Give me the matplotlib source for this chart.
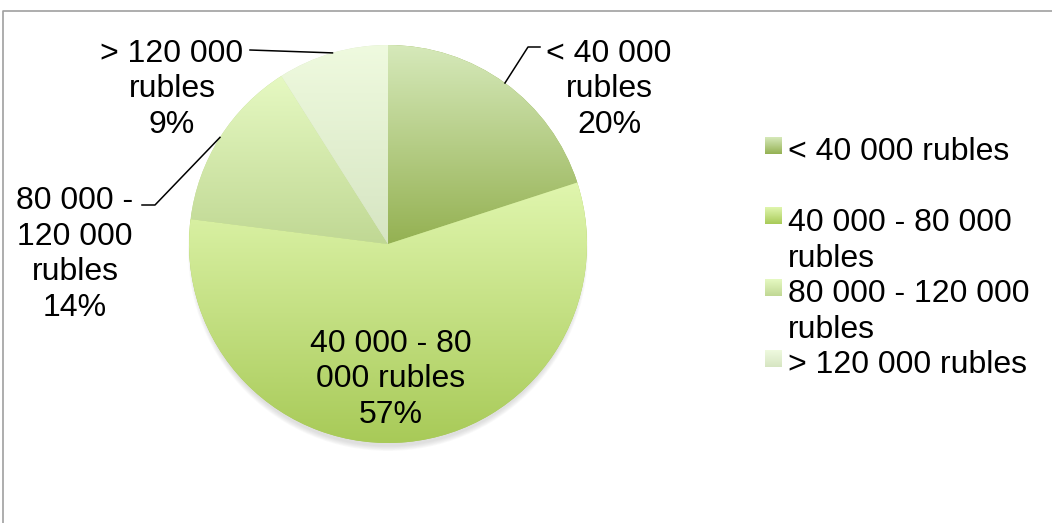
import matplotlib.pyplot as plt
import numpy as np
from matplotlib.colors import LinearSegmentedColormap
from matplotlib.patches import Circle, Rectangle
from matplotlib.lines import Line2D

plt.rcParams['font.family'] = ['Liberation Sans', 'DejaVu Sans']

categories = ['< 40 000 rubles', '40 000 - 80 000 rubles',
              '80 000 - 120 000 rubles', '> 120 000 rubles']
shares = [20, 57, 14, 9]
slice_labels = ['< 40 000\nrubles', '40 000 - 80\n000 rubles',
                '80 000 -\n120 000\nrubles', '> 120 000\nrubles']
legend_labels = ['< 40 000 rubles', '40 000 - 80 000\nrubles',
                 '80 000 - 120 000\nrubles', '> 120 000 rubles']

# (top, bottom) colour of each slice's vertical gradient
gradients = [('#d6e9ba', '#94b152'),
             ('#e0f6ae', '#a8ca58'),
             ('#e6f9c2', '#c0d894'),
             ('#effadf', '#d6e5c2')]

W, H = 1052, 523
center = (388, 279)
radius = 199


def gradient_fill(ax, patch, top, bottom):
    ext = patch.get_path().transformed(patch.get_patch_transform()).get_extents()
    cmap = LinearSegmentedColormap.from_list('g', [bottom, top])
    img = ax.imshow(np.linspace(0, 1, 256).reshape(-1, 1), cmap=cmap,
                    extent=(ext.x0, ext.x1, ext.y0, ext.y1), origin='lower',
                    aspect='auto', interpolation='bilinear', zorder=2)
    img.set_clip_path(patch)


fig = plt.figure(figsize=(W / 100, H / 100), dpi=100)
ax = fig.add_axes([0, 0, 1, 1])

# soft drop shadow under the pie
for k in range(6):
    ax.add_patch(Circle((center[0], center[1] - 7), radius + 1 - k * 0.9,
                        facecolor='#808080', edgecolor='none',
                        alpha=0.045, zorder=0))

wedges, _ = ax.pie(shares, center=center, radius=radius, startangle=90,
                   counterclock=False,
                   wedgeprops=dict(facecolor='none', edgecolor='none'))

for w, (top, bottom) in zip(wedges, gradients):
    w.set_facecolor(bottom)
    w.set_zorder(1)
    gradient_fill(ax, w, top, bottom)

fs = 23
ls = 1.24

# labels with leader lines (text y is the baseline of the last line)
for i, w in enumerate(wedges):
    txt = f'{slice_labels[i]}\n{shares[i]}%'
    mid = np.deg2rad((w.theta1 + w.theta2) / 2)
    ex = center[0] + radius * np.cos(mid)
    ey = center[1] + radius * np.sin(mid)
    if i == 1:
        ax.text(391, 100, txt, ha='center', va='baseline', fontsize=fs,
                linespacing=ls, zorder=5)
        continue
    if i == 0:
        lx, ly = 609, 390
        path_x, path_y = [ex, 528, 540], [ey, 476, 476]
    elif i == 2:
        lx, ly = 75, 207
        path_x, path_y = [ex, 155, 142], [ey, 318, 318]
    else:
        lx, ly = 172, 390
        path_x, path_y = [ex, 250], [ey, 473]
    ax.add_line(Line2D(path_x, path_y, color='black', lw=1.1, zorder=4))
    ax.text(lx, ly, txt, ha='center', va='baseline', fontsize=fs,
            linespacing=ls, zorder=5)

# legend
legend_tops = [386, 316, 244, 173]
legend_base = [363, 256, 185, 150]
for lab, (top, bottom), yt, yb in zip(legend_labels, gradients,
                                      legend_tops, legend_base):
    sq = Rectangle((765, yt - 17), 17, 17, facecolor=bottom,
                   edgecolor='none', zorder=1)
    ax.add_patch(sq)
    gradient_fill(ax, sq, top, bottom)
    ax.text(788, yb, lab, ha='left', va='baseline', fontsize=fs,
            linespacing=ls, zorder=5)

# chart area border
ax.add_line(Line2D([3, 3, W], [0, 512, 512], color='#a0a0a0', lw=1.2,
                   zorder=6))

ax.set_xlim(0, W)
ax.set_ylim(0, H)
ax.set_aspect('equal')
ax.axis('off')

fig.savefig('out.png', dpi=100, facecolor='white')
